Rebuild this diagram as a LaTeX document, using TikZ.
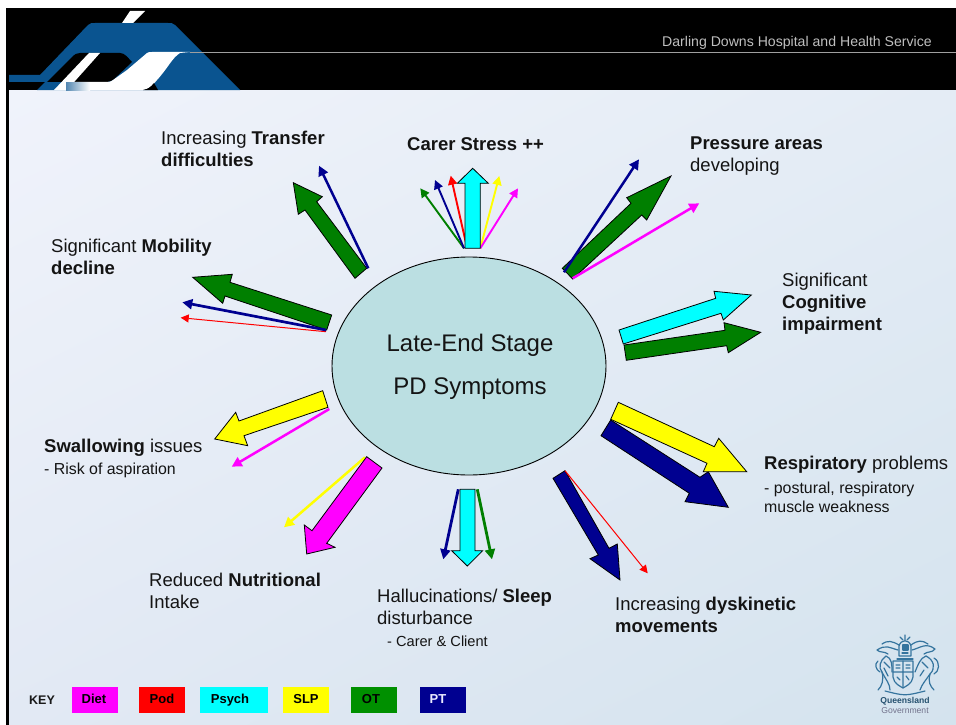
\documentclass[tikz,border=0pt]{standalone}
\usepackage{fontspec}
\setmainfont{Liberation Sans}
\usetikzlibrary{arrows.meta,shapes.geometric,shadings}
\definecolor{hdblue}{HTML}{0A5490}
\definecolor{cgreen}{HTML}{007F00}
\definecolor{cnavy}{HTML}{000090}
\definecolor{cmag}{HTML}{FF00FF}
\definecolor{ccyan}{HTML}{00FFFF}
\definecolor{cyel}{HTML}{FFFF00}
\definecolor{cred}{HTML}{FF0000}
\definecolor{ellfill}{HTML}{BBDFE2}
\definecolor{crest}{HTML}{35749E}
\definecolor{keygreen}{HTML}{009000}
\definecolor{pul}{HTML}{F0F3FB}
\definecolor{pur}{HTML}{E4ECF5}
\definecolor{pll}{HTML}{E2E9F4}
\definecolor{plr}{HTML}{D4E3EE}
\tikzset{
  block/.style={draw=black,line width=0.8pt,line join=miter},
  lab/.style={anchor=base west,inner sep=0pt,font=\fontsize{18.5}{20}\selectfont,text=black!92},
  sub/.style={anchor=base west,inner sep=0pt,font=\fontsize{15.9}{17}\selectfont,text=black!92},
  keybox/.style={minimum height=26pt,text height=9pt,text depth=3pt,inner sep=0pt,font=\fontsize{13}{14}\selectfont\bfseries,text=black},
  crestline/.style={draw=crest,line width=1.2pt,line cap=round,line join=round}
}
\newcommand{\thinarrow}[6]{%
  \coordinate (#1s) at (#3);\coordinate (#1e) at (#4);
  \draw[#2,line width=#5pt,-{Triangle[length=#6pt,width=#6pt]}] (#1s) -- (#1e);}
\begin{document}
\begin{tikzpicture}[x=1pt,y=-1pt]
\useasboundingbox (0,0) rectangle (956,725);
\fill[white] (0,0) rectangle (956,725);
% panel
\shade[upper left=pul, upper right=pur, lower left=pll, lower right=plr] (8,90) rectangle (956,725);
\fill[black] (6,8) rectangle (956,90);
\fill[black] (6,8) rectangle (9,725);
% header logo
\begin{scope}
\clip (6,8) rectangle (956,90);
\fill[hdblue] (9,75) -- (40,75) -- (88,25) .. controls (90,23) and (92,23) .. (95,23) -- (168,23) .. controls (171,23) and (173,23) .. (175,25) -- (240,90) -- (37,90) -- (45,82) -- (9,82) -- cycle;
\fill[black] (47,82) -- (72,57) .. controls (75,54) and (77,53) .. (80,53) -- (120,53) .. controls (125,53) and (128,58) .. (132,62) -- (113,80) .. controls (111,81) and (109,82) .. (107,82) -- cycle;
\fill[white] (130,11) -- (145,11) -- (133,23) -- (122,23) -- cycle;
\fill[white] (89,53) -- (100,53) -- (67,90) -- (54,90) -- cycle;
\fill[white] (107,82) .. controls (110,82) and (112,81) .. (113,80) -- (127,70) -- (147,53) .. controls (148,52) and (150,52) .. (152,52) -- (190,52) -- (180,53) .. controls (172,58) and (168,68) .. (157,80) .. controls (152,86) and (148,90) .. (143,90) -- (70,90) -- (70,82) -- cycle;
\shade[left color=hdblue!70,right color=white] (66,83) rectangle (90,90);
\fill[black] (143,90) .. controls (148,89) and (151,87) .. (154,83) -- (158,90) -- cycle;
\end{scope}
\fill[gray!75] (190,51.6) rectangle (956,53);
\node[anchor=base east,inner sep=0pt,text=white!75!black,font=\fontsize{14.1}{15}\selectfont] (hd) at (932,47) {Darling Downs Hospital and Health Service};
% ellipse
\node[ellipse,draw=black,line width=0.9pt,fill=ellfill,minimum width=274pt,minimum height=218pt,inner sep=0pt] (core) at (469,366) {};
\node[inner sep=0pt,font=\fontsize{24}{26}\selectfont,text=black!92] (t1) at (470,345.5) {Late-End Stage};
\node[inner sep=0pt,font=\fontsize{24}{26}\selectfont,text=black!92] (t2) at (470,388.5) {PD Symptoms};
% top
\thinarrow{a1}{cgreen}{464,248.3}{420.3,188.3}{1.9}{9}
\thinarrow{a2}{cnavy}{464,248.3}{435,180}{1.9}{9}
\thinarrow{a3}{cred}{465.7,242}{450.7,175.7}{1.9}{9}
\thinarrow{a4}{cyel}{480.3,248.3}{499.3,176}{1.9}{9}
\thinarrow{a5}{cmag}{480.3,248.3}{518,188.3}{1.9}{9}
\draw[block,fill=ccyan] (465,248.3) -- (465,183.3) -- (457.3,183.3) -- (472.7,168.3) -- (488.3,183.3) -- (480.3,183.3) -- (480.3,248.3) -- cycle;
% transfer
\draw[block,fill=cgreen] (355,278.3) -- (305,210) -- (298.3,214.3) -- (293.3,182.7) -- (322.3,196.7) -- (316.7,201.7) -- (366.7,268.3) -- cycle;
\thinarrow{b1}{cnavy}{368.3,268.3}{319,165.7}{2.5}{10}
% mobility
\draw[block,fill=cgreen] (326.7,330) -- (225,296) -- (222.7,303.3) -- (192.7,277.3) -- (232.3,274.3) -- (230,282.3) -- (331.7,315) -- cycle;
\thinarrow{c1}{cred}{326,331.7}{180.7,317.7}{1}{8}
\thinarrow{c2}{cnavy}{326,330}{182.3,302.3}{2.7}{10}
% pressure
\draw[block,fill=cgreen] (572.7,279) -- (641.7,215) -- (646.7,220) -- (671,176) -- (626.7,197.7) -- (631,203.3) -- (562.3,268.3) -- cycle;
\thinarrow{d1}{cnavy}{564,272.3}{639,159.3}{2.5}{10}
\thinarrow{d2}{cmag}{572.7,278.3}{699.3,203.3}{2.5}{10}
% cognitive
\draw[block,fill=cgreen] (624,345) -- (725,330.3) -- (724,322.7) -- (760.7,332.3) -- (728.3,352.7) -- (726.7,345.7) -- (626.3,360.3) -- cycle;
\draw[block,fill=ccyan] (619,330) -- (715.7,298.3) -- (714,291.3) -- (751.3,295) -- (723.3,320) -- (721,313.3) -- (623.3,344) -- cycle;
% respiratory
\draw[block,fill=cnavy] (610.7,420) -- (700,477.3) -- (708.3,471.7) -- (728.3,507.3) -- (685,501.7) -- (689.3,493.3) -- (601,435.7) -- cycle;
\draw[block,fill=cyel] (618.3,402.3) -- (714.3,446.7) -- (718.7,438.3) -- (746.7,471.7) -- (703.3,471.7) -- (707,463.3) -- (610.7,419.3) -- cycle;
% dyskinetic
\draw[block,fill=cnavy] (553,478.3) -- (598.3,555) -- (590,558.7) -- (620,580) -- (617.3,544) -- (609,548.3) -- (565,470.7) -- cycle;
\thinarrow{e1}{cred}{565,470.7}{647.7,573.3}{1}{8}
% hallucinations
\thinarrow{f1}{cnavy}{458.3,489.3}{443.3,559.3}{2.8}{10}
\thinarrow{f2}{cgreen}{477.3,489.3}{492,559.3}{2.8}{10}
\draw[block,fill=ccyan] (460,489.3) -- (460,550.7) -- (451.7,550.7) -- (467.3,566) -- (482.7,550.7) -- (475,550.7) -- (475,489.3) -- cycle;
% nutrition
\thinarrow{g1}{cyel}{365,457.3}{284,527.3}{2.5}{10}
\draw[block,fill=cmag] (366.7,456.7) -- (312,530.7) -- (304.3,525) -- (306.7,554) -- (335,547.3) -- (326.7,543.3) -- (382,468) -- cycle;
% swallowing
\thinarrow{h1}{cmag}{329.3,409}{231.7,466.7}{2.5}{10}
\draw[block,fill=cyel] (322.7,390.7) -- (239,421) -- (235.7,412.3) -- (214.7,439) -- (247.7,445.7) -- (244,435.7) -- (328,407.3) -- cycle;
% labels
\node[lab] (l1a) at (161,144) {Increasing \textbf{Transfer}};
\node[lab] (l1b) at (161,166) {\textbf{difficulties}};
\node[lab] (l2) at (407,150) {\textbf{Carer Stress ++}};
\node[lab] (l3a) at (690,149) {\textbf{Pressure areas}};
\node[lab] (l3b) at (690,171) {developing};
\node[lab] (l4a) at (782,286) {Significant};
\node[lab] (l4b) at (782,308) {\textbf{Cognitive}};
\node[lab] (l4c) at (782,330) {\textbf{impairment}};
\node[lab] (l5a) at (764,469) {\textbf{Respiratory} problems};
\node[sub] (l5b) at (764,493) {- postural, respiratory};
\node[sub] (l5c) at (764,512) {muscle weakness};
\node[lab] (l6a) at (615,610) {Increasing \textbf{dyskinetic}};
\node[lab] (l6b) at (615,632) {\textbf{movements}};
\node[lab] (l7a) at (377,602) {Hallucinations/ \textbf{Sleep}};
\node[lab] (l7b) at (377,624) {disturbance};
\node[sub,font=\fontsize{14.6}{17}\selectfont] (l7c) at (387,646) {- Carer \& Client};
\node[lab] (l8a) at (149,586) {Reduced \textbf{Nutritional}};
\node[lab] (l8b) at (149,608) {Intake};
\node[lab] (l9a) at (44,452) {\textbf{Swallowing} issues};
\node[sub] (l9b) at (44,474) {- Risk of aspiration};
\node[lab] (l10a) at (51,252) {Significant \textbf{Mobility}};
\node[lab] (l10b) at (51,274) {\textbf{decline}};
% key
\node[anchor=west,inner sep=0pt,font=\fontsize{12.5}{14}\selectfont\bfseries,text=black!90] (key) at (29,700) {KEY};
\node[keybox,fill=cmag,minimum width=46pt] (kd) at (95,700) {\hspace*{-2pt}Diet};
\node[keybox,fill=cred,minimum width=46pt] (kp) at (162,700) {Pod};
\node[keybox,fill=ccyan,minimum width=68pt] (kc) at (234,700) {\hspace*{-8pt}Psych};
\node[keybox,fill=cyel,minimum width=46pt] (ks) at (306,700) {SLP};
\node[keybox,fill=keygreen,minimum width=46pt] (ko) at (374,700) {\hspace*{-6pt}OT};
\node[keybox,fill=cnavy,text=white!92!blue,minimum width=46pt] (kt) at (443,700) {\hspace*{-10pt}PT};
% crest
\begin{scope}[crestline]
\draw (885,691) .. controls (905,696) and (905,696) .. (925,691);
\draw (893,661) -- (913,661) -- (913,677) .. controls (912,684) and (906,686) .. (903,688) .. controls (900,686) and (894,684) .. (893,677) -- cycle;
\draw (903,661) -- (903,687) (893,672) -- (913,672) (896,665) -- (900,665) (906,665) -- (910,665) (896,668) -- (900,668) (906,668) -- (910,668) (897,677) -- (900,680) (906,676) -- (909,680);
\draw (899,656) -- (899,646) .. controls (901,639) and (909,639) .. (911,646) -- (911,656) -- cycle;
\draw[fill=crest] (903,645) rectangle (908,650);
\draw (902,653) -- (908,653) (897,659) -- (913,659);
\draw (905,635) -- (905,640) (900,637) -- (903,640) (910,637) -- (907,640);
\draw (898,650) .. controls (890,648) and (886,644) .. (877,650) .. controls (880,653) and (884,651) .. (888,654);
\draw (899,645) .. controls (892,641) and (888,640) .. (882,644);
\draw (912,650) .. controls (920,648) and (926,642) .. (935,649) .. controls (932,653) and (928,651) .. (924,654);
\draw (911,645) .. controls (918,640) and (922,640) .. (928,644);
\draw (886,656) .. controls (880,660) and (878,668) .. (882,672) .. controls (884,680) and (882,686) .. (878,690);
\draw (886,656) .. controls (892,658) and (892,665) .. (892,672) (882,672) .. controls (886,680) and (890,684) .. (890,690);
\draw (878,661) .. controls (874,664) and (876,670) .. (880,672) (884,662) -- (890,668) (884,668) -- (888,676);
\draw (926,656) .. controls (934,660) and (936,668) .. (930,674) .. controls (928,682) and (930,686) .. (934,690);
\draw (926,656) .. controls (920,658) and (918,665) .. (915,672) (930,674) .. controls (926,680) and (922,684) .. (920,690);
\draw (934,658) .. controls (941,662) and (939,672) .. (934,674) (922,662) -- (928,668) (924,670) -- (920,676);
\end{scope}
\node[inner sep=0pt,font=\fontsize{8.6}{10}\selectfont\bfseries,text=crest!70!black] (q1) at (905,701) {Queensland};
\node[inner sep=0pt,font=\fontsize{8.6}{10}\selectfont,text=gray!90!blue] (q2) at (905,711) {Government};
\end{tikzpicture}
\end{document}
